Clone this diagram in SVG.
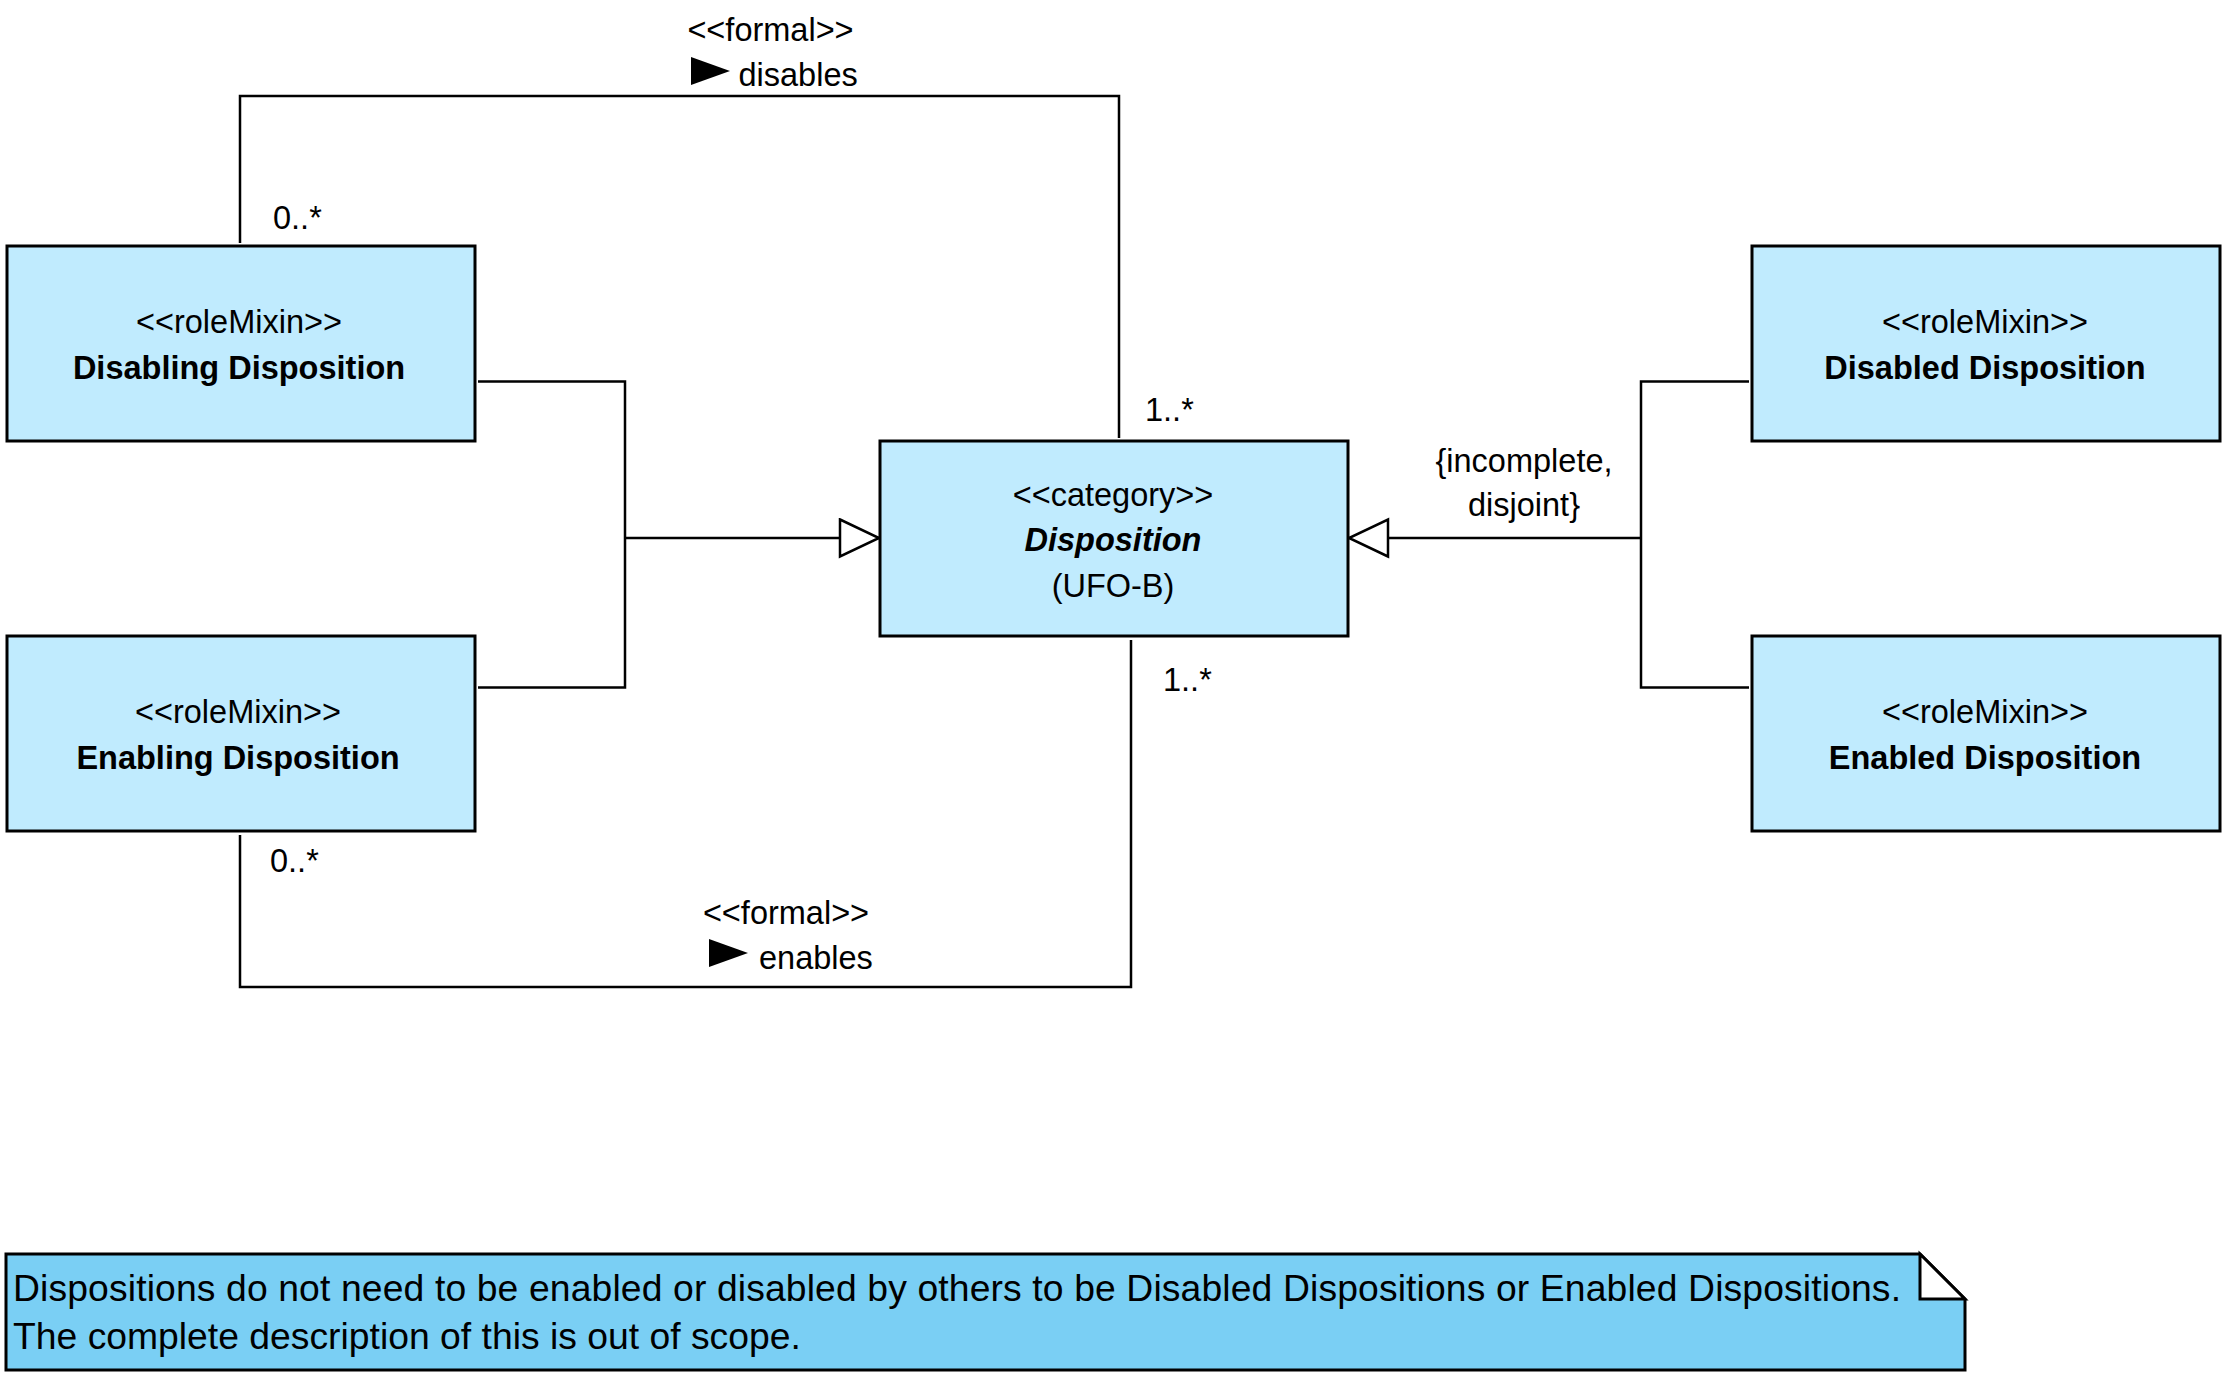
<svg xmlns="http://www.w3.org/2000/svg" width="2232" height="1386" viewBox="0 0 2232 1386">
<style>
text { font-family: "Liberation Sans", Arial, sans-serif; font-size: 32.5px; fill: #000; }
.c { text-anchor: middle; }
.b { font-weight: bold; }
.bi { font-weight: bold; font-style: italic; }
.box { fill: #C0EBFE; stroke: #000; stroke-width: 3; }
.conn { fill: none; stroke: #000; stroke-width: 2.5; }
.note { fill: #7ACFF4; stroke: #000; stroke-width: 3; }
.nt { font-size: 37.3px; }
</style>
<defs>
<marker id="gen" markerUnits="userSpaceOnUse" markerWidth="44" markerHeight="42" viewBox="-2 -2 44 42" refX="39" refY="18.5" orient="auto">
<path d="M0,0 L39,18.5 L0,37 Z" fill="#fff" stroke="#000" stroke-width="2.5"/>
</marker>
</defs>
<rect width="2232" height="1386" fill="#fff"/>
<g id="connectors">
<path class="conn" d="M240,243 V96 H1119 V438"/>
<path class="conn" d="M240,835 V987 H1131 V640"/>
<path class="conn" d="M478,381.5 H625 V687.5 H478"/>
<path class="conn" d="M625,538 H879" marker-end="url(#gen)"/>
<path class="conn" d="M1749,381.5 H1641 V687.5 H1749"/>
<path class="conn" d="M1641,538 H1349" marker-end="url(#gen)"/>
<text class="c" x="770.5" y="41">&lt;&lt;formal&gt;&gt;</text>
<polygon points="691,57 691,85 730,71" fill="#000"/>
<text x="738.5" y="86">disables</text>
<text class="c" x="786" y="924">&lt;&lt;formal&gt;&gt;</text>
<polygon points="709,939 709,967 748,953" fill="#000"/>
<text x="759" y="969">enables</text>
<text x="273" y="229">0..*</text>
<text x="1145" y="421">1..*</text>
<text x="1163" y="691">1..*</text>
<text x="270" y="872">0..*</text>
<text class="c" x="1524" y="472">{incomplete,</text>
<text class="c" x="1524" y="516">disjoint}</text>
</g>
<g id="disabling">
<rect class="box" x="7" y="246" width="468" height="195"/>
<text class="c" x="239" y="333">&lt;&lt;roleMixin&gt;&gt;</text>
<text class="c b" x="239" y="379">Disabling Disposition</text>
</g>
<g id="enabling">
<rect class="box" x="7" y="636" width="468" height="195"/>
<text class="c" x="238" y="723">&lt;&lt;roleMixin&gt;&gt;</text>
<text class="c b" x="238" y="769">Enabling Disposition</text>
</g>
<g id="disposition">
<rect class="box" x="880" y="441" width="468" height="195"/>
<text class="c" x="1113" y="505.5">&lt;&lt;category&gt;&gt;</text>
<text class="c bi" x="1113" y="551">Disposition</text>
<text class="c" x="1113" y="596.5">(UFO-B)</text>
</g>
<g id="disabled">
<rect class="box" x="1752" y="246" width="468" height="195"/>
<text class="c" x="1985" y="333">&lt;&lt;roleMixin&gt;&gt;</text>
<text class="c b" x="1985" y="379">Disabled Disposition</text>
</g>
<g id="enabled">
<rect class="box" x="1752" y="636" width="468" height="195"/>
<text class="c" x="1985" y="723">&lt;&lt;roleMixin&gt;&gt;</text>
<text class="c b" x="1985" y="769">Enabled Disposition</text>
</g>
<g id="note">
<path class="note" d="M6,1254 H1920 L1965,1299 V1370 H6 Z"/>
<path d="M1920,1254 V1299 H1965 Z" fill="#fff" stroke="#000" stroke-width="3" stroke-linejoin="miter"/>
<text class="nt" x="13" y="1301" textLength="1888" lengthAdjust="spacing">Dispositions do not need to be enabled or disabled by others to be Disabled Dispositions or Enabled Dispositions.</text>
<text class="nt" x="13" y="1349">The complete description of this is out of scope.</text>
</g>
</svg>
